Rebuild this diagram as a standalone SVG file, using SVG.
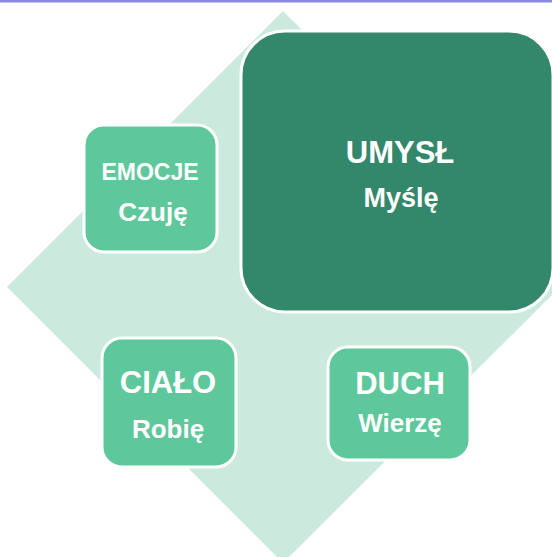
<svg xmlns="http://www.w3.org/2000/svg" width="552" height="557" viewBox="0 0 552 557">
  <style>
    .box { stroke: #ffffff; stroke-width: 3; }
    .small { fill: #5ec89c; }
    .big { fill: #33876b; }
    .t { font-family: "Liberation Sans", Arial, sans-serif; font-weight: bold; fill: #ffffff; text-anchor: middle; }
  </style>
  <rect x="0" y="0" width="552" height="557" fill="#ffffff"/>
  <rect x="0" y="0" width="552" height="2.5" fill="#8a8ae0"/>
  <g id="diamond">
    <polygon points="283,11 560,287 283,563 7,287" fill="#cbeadd"/>
  </g>
  <g id="connectors"></g>
  <g id="umysl">
    <rect class="box big" x="241" y="31" width="312" height="281" rx="44" ry="44"/>
    <text class="t" x="400" y="163" font-size="31">UMYSŁ</text>
    <text class="t" x="401" y="207" font-size="27">Myślę</text>
  </g>
  <g id="emocje">
    <rect class="box small" x="84" y="125" width="133" height="127" rx="20" ry="20"/>
    <text class="t" x="150" y="180" font-size="23">EMOCJE</text>
    <text class="t" x="153" y="221" font-size="26">Czuję</text>
  </g>
  <g id="cialo">
    <rect class="box small" x="102" y="338" width="134" height="129" rx="20" ry="20"/>
    <text class="t" x="168" y="393" font-size="31">CIAŁO</text>
    <text class="t" x="168" y="438" font-size="26">Robię</text>
  </g>
  <g id="duch">
    <rect class="box small" x="328" y="347" width="142" height="113" rx="20" ry="20"/>
    <text class="t" x="400" y="394" font-size="31">DUCH</text>
    <text class="t" x="400" y="432" font-size="26">Wierzę</text>
  </g>
</svg>
